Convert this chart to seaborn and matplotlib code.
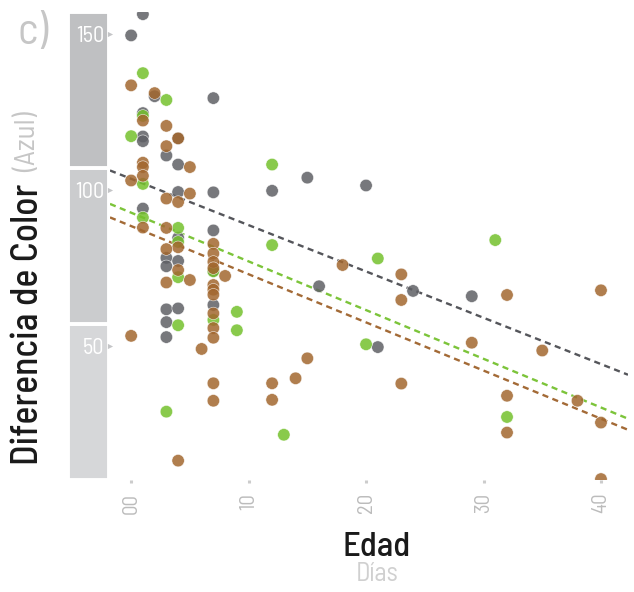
import matplotlib
matplotlib.use("Agg")
import matplotlib.pyplot as plt
import matplotlib.transforms as mtransforms
import pandas as pd
import seaborn as sns

# Edad (días) y diferencia de color (azul) por grupo
edad_gris = [1, 0, 2, 7, 1, 1, 1, 4, 3, 4, 4, 7, 1, 7, 4, 3, 3, 4, 7, 3, 4, 3, 3,
             12, 15, 20, 16, 21, 24, 29, 7]
dif_gris = [156.3, 149.5, 130.0, 129.4, 124.6, 117.1, 115.6, 116.5, 111.0, 108.1,
            99.3, 99.2, 94.0, 87.0, 84.6, 78.2, 75.5, 77.2, 63.1, 61.7, 62.0, 57.6,
            52.8, 99.7, 103.9, 101.4, 69.1, 49.6, 67.6, 65.9, 74.0]

edad_verde = [1, 3, 1, 0, 1, 1, 4, 4, 4, 7, 7, 4, 9, 9, 3, 12, 12, 21, 20, 13, 31, 32]
dif_verde = [137.4, 128.8, 123.7, 117.2, 101.9, 91.1, 87.8, 83.3, 72.0, 73.9, 58.3,
             56.6, 60.9, 55.0, 28.9, 108.1, 82.3, 78.0, 50.5, 21.5, 83.9, 27.2]

edad_marron = [0, 2, 1, 3, 4, 3, 1, 1, 1, 5, 0, 5, 3, 4, 1, 3, 4, 3, 7, 7, 7, 4, 7,
               5, 8, 3, 7, 7, 7, 7, 7, 7, 0, 6, 15, 7, 12, 14, 7, 12, 4, 18, 23, 23,
               23, 29, 32, 35, 32, 38, 32, 40, 40, 40]
dif_marron = [133.5, 131.0, 122.2, 120.5, 116.5, 114.0, 108.7, 107.3, 104.5, 107.3,
              103.0, 98.8, 97.2, 96.1, 87.9, 87.8, 81.6, 81.0, 82.7, 79.6, 76.9, 74.3,
              74.9, 71.1, 72.4, 70.3, 69.5, 68.0, 66.4, 60.4, 55.7, 52.6, 53.2, 49.0,
              46.0, 38.0, 38.0, 39.6, 32.4, 32.7, 13.2, 75.9, 72.9, 64.7, 37.9, 51.0,
              66.3, 48.5, 34.0, 32.4, 22.2, 67.8, 25.4, 7.3]

grupos = ["gris", "verde", "marrón"]
colores = {"gris": "#5f6065", "verde": "#74c12c", "marrón": "#a2672f"}
linea_colores = {"gris": "#55565b", "verde": "#7cc43a", "marrón": "#a36a36"}

x_ticks = [0, 10, 20, 30, 40]
x_ticklabels = ["00", "10", "20", "30", "40"]
y_ticks = [50, 100, 150]
tramos_base = [7, 57, 107]
tramo_alto = 50
tramo_colores = ["#d6d7d9", "#cbccce", "#bfc0c2"]

df = pd.concat([
    pd.DataFrame({"edad": edad_gris, "dif": dif_gris, "grupo": "gris"}),
    pd.DataFrame({"edad": edad_verde, "dif": dif_verde, "grupo": "verde"}),
    pd.DataFrame({"edad": edad_marron, "dif": dif_marron, "grupo": "marrón"}),
], ignore_index=True)

sns.set_theme(style="white")
plt.rcParams["font.family"] = ["Barlow Semi Condensed", "Barlow Condensed",
                               "DejaVu Sans"]

W, H = 634, 592
fig = plt.figure(figsize=(W / 100, H / 100), dpi=100)
ax = fig.add_axes([110 / W, (H - 480) / H, 518 / W, 468 / H])
bar_ax = fig.add_axes([68 / W, (H - 482) / H, 41 / W, 472 / H])
ax.set_zorder(2)
ax.patch.set_alpha(0)

ax.set_xlim(-1.8, 42.3)
ax.set_ylim(7, 157)

# Barra de referencia del eje Y, en tramos de 50
bar_ax.bar([0, 0, 0], [tramo_alto] * 3, bottom=tramos_base, width=1.0,
           color=tramo_colores, edgecolor="white", linewidth=2.8)
bar_ax.set_xlim(-0.5, 0.5)
bar_ax.set_ylim(7 - 0.65, 157 + 0.65)
bar_ax.axis("off")

sns.scatterplot(data=df, x="edad", y="dif", hue="grupo", hue_order=grupos,
                palette=colores, s=80, alpha=0.85, edgecolor="white",
                linewidth=0.4, legend=False, ax=ax, zorder=3)

# Recta de regresión de cada grupo
for g in grupos:
    sub = df[df["grupo"] == g]
    sns.regplot(data=sub, x="edad", y="dif", scatter=False, ci=None,
                truncate=False, ax=ax,
                line_kws=dict(color=linea_colores[g], lw=1.7,
                              ls=(0, (2.6, 1.9)), zorder=2))

ax.set_xlim(-1.8, 42.3)
ax.set_ylim(7, 157)
sns.despine(ax=ax, left=True, bottom=True)

ax.set_xticks(x_ticks)
ax.set_xticklabels(x_ticklabels, rotation=90, color="#bcbcbc", fontsize=15)
ax.tick_params(axis="x", bottom=True, direction="out", length=2.2, width=2.2,
               color="#cccccc", pad=7)
ax.set_yticks(y_ticks)
ax.set_yticklabels([str(v) for v in y_ticks], color="white", fontsize=16)
ax.tick_params(axis="y", left=False, length=0, pad=4)
ax.set_xlabel("")
ax.set_ylabel("")

trans = mtransforms.blended_transform_factory(ax.transAxes, ax.transData)
ax.scatter([0.0] * len(y_ticks), y_ticks, marker=">", s=14, color="#c4c5c7",
           transform=trans, clip_on=False, zorder=1, linewidths=0)

fig.text(28 / W, 1 - 324 / H, "Diferencia de Color", rotation=90, fontsize=27,
         fontweight="medium", color="#1a1a1a", ha="center", va="center")
fig.text(28 / W, 1 - 142 / H, "(Azul)", rotation=90, fontsize=21,
         color="#c6c6c6", ha="center", va="center")
fig.text(18 / W, 1 - 33 / H, "c)", fontsize=32, color="#c6c6c6",
         ha="left", va="center")
fig.text(377 / W, 1 - 547 / H, "Edad", fontsize=25, fontweight="medium",
         color="#1a1a1a", ha="center", va="center")
fig.text(377 / W, 1 - 574 / H, "Días", fontsize=19, color="#d0d0d0",
         ha="center", va="center")

fig.savefig("out.png", dpi=100)
